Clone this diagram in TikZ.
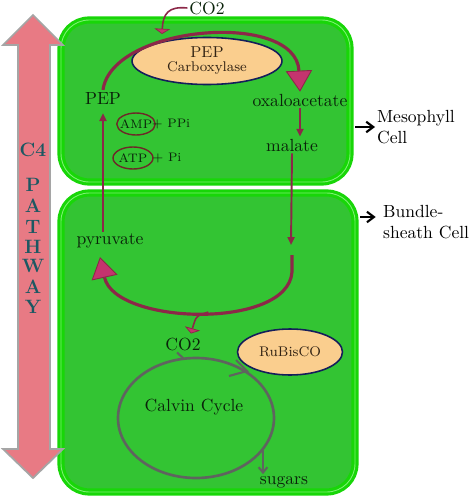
\documentclass[tikz,border=0pt]{standalone}
\usepackage{tikz}
\usetikzlibrary{arrows.meta,calc,positioning,shapes}

\definecolor{cellfill}{RGB}{51,196,51}
\definecolor{cellrim}{RGB}{24,214,8}
\definecolor{cellhl}{RGB}{125,240,115}
\definecolor{maroon}{RGB}{140,40,72}
\definecolor{tipfill}{RGB}{196,52,110}
\definecolor{enzfill}{RGB}{250,206,142}
\definecolor{enzline}{RGB}{20,30,90}
\definecolor{enztext}{RGB}{50,35,20}
\definecolor{cofline}{RGB}{110,40,40}
\definecolor{pathpink}{RGB}{232,122,132}
\definecolor{pathgray}{RGB}{165,165,165}
\definecolor{pathtext}{RGB}{28,88,98}
\definecolor{calvgray}{RGB}{95,100,95}
\definecolor{labeltext}{RGB}{10,35,10}

\begin{document}
\begin{tikzpicture}[x=0.02cm,y=-0.02cm,>=Stealth,
    cell/.style={draw=cellrim,fill=cellfill,line width=1.8pt,double=cellhl,
      double distance=0.5pt,rounded corners=16pt,inner sep=0pt},
    lbl/.style={text=labeltext,inner sep=1pt},
    side/.style={align=left,inner sep=1pt,anchor=west},
    enzyme/.style={ellipse,draw=enzline,fill=enzfill,line width=0.9pt,inner sep=0pt,
      text=enztext,align=center,font=\fontsize{8}{9}\selectfont},
    cofactor/.style={ellipse,draw=cofline,line width=0.8pt,inner sep=-1.5pt,
      minimum height=0.44cm,text=labeltext,font=\fontsize{7}{8}\selectfont},
    small/.style={text=labeltext,inner sep=0pt,font=\fontsize{7}{8}\selectfont},
    flow/.style={draw=maroon,line width=1.1pt,-{Triangle[length=4.5pt,width=4pt]}},
    bigflow/.style={draw=maroon,line width=1.8pt,
      -{Triangle[length=12pt,width=15pt,fill=tipfill,line width=0.5pt]}},
    co2flow/.style={draw=maroon,line width=0.9pt,
      -{Triangle[length=3pt,width=9pt,fill=tipfill,line width=0.4pt]}},
    calvline/.style={draw=calvgray,line width=1.5pt},
    pointer/.style={draw=black,line width=1.2pt,-{Straight Barb[length=4pt,width=6pt]}},
    pathletter/.style={text=pathtext,font=\fontsize{11}{12}\selectfont\bfseries,inner sep=0pt}]
  \fill[white] (0,0) rectangle (474,497);
  \useasboundingbox (0,0) rectangle (474,497);

  % the two cells
  \node[cell,minimum width=5.78cm,minimum height=3.24cm] (meso) at (205.5,101) {};
  \node[cell,minimum width=5.88cm,minimum height=5.98cm] (bs) at (208,342.5) {};

  % C4 pathway arrow
  \filldraw[fill=pathpink,draw=pathgray,line width=1pt]
    (33,15) -- (63,45) -- (50,45) -- (50,449) -- (63,449) -- (33,478)
    -- (3,449) -- (18,449) -- (18,45) -- (3,45) -- cycle;
  \node[pathletter] (c4) at (33,150) {C4};
  \foreach \ch/\y in {P/185,A/206,T/227,H/247,W/266,A/287,Y/307}
    {\node[pathletter] (letter\y) at (33,\y) {\ch};}

  % mesophyll cell
  \node[enzyme,minimum width=3cm,minimum height=0.94cm] (pepc) at (207,61)
    {\fontsize{9}{10}\selectfont PEP\\[-1pt]Carboxylase};
  \node[lbl] (co2top) at (207,8) {CO2};
  \node[lbl] (pep) at (103,98) {PEP};
  \node[lbl] (oxa) at (300,100) {oxaloacetate};
  \node[lbl] (malate) at (292,145) {malate};
  \node[cofactor,minimum width=0.68cm] (amp) at (136,124) {AMP};
  \node[small] (ppi) at (171,124) {+ PPi};
  \node[cofactor,minimum width=0.8cm] (atp) at (133,158) {ATP};
  \node[small] (pi) at (167,158) {+ Pi};
  \coordinate (co2in) at (162,34);

  \draw[bigflow] (pep.north) .. controls (112,25) and (296,10) .. (oxa.north);
  \draw[co2flow] (co2top.west) .. controls (168,6) and (163,14) .. (co2in);
  \draw[flow] (oxa.south) -- (oxa.south |- malate.north);

  % bundle-sheath cell
  \node[lbl] (pyr) at (110,241) {pyruvate};
  \node[lbl] (co2bot) at (183,344) {CO2};
  \node[enzyme,minimum width=2.1cm,minimum height=0.92cm] (rubisco) at (290,352) {RuBisCO};
  \node[lbl] (calvin) at (194,407) {Calvin Cycle};
  \node[lbl] (sugars) at (284,482) {sugars};
  \coordinate (bsin) at (291,245);
  \coordinate (bsarc) at (292,255);
  \coordinate (pyrin) at (100,257);
  \coordinate (sugout) at (263,450);

  \draw[flow] (malate.south) -- (bsin);
  \draw[flow] (pyr.north -| pep.south) -- ([yshift=-4pt]pep.south);
  \draw[bigflow] (bsarc) -- (292,272) .. controls (288,330) and (115,325) .. (pyrin)
    coordinate[pos=0.47] (branch);
  \draw[co2flow] (branch) .. controls (196,316) .. ($(co2bot.north)+(8,-2)$);

  \draw[calvline] ($(calvin.center)+(2,11)$) ellipse [x radius=78, y radius=60];
  \draw[calvline,line width=1.2pt] (236,360) -- (247,371) -- (229,376);
  \draw[calvline,line width=1.2pt] ($(co2bot.south)+(-6,0)$) -- (184,359);
  \draw[calvline,line width=1.2pt,-{Straight Barb[length=3pt,width=5pt]}]
    (sugout) -- (sugout |- sugars.north);

  % cell names
  \node[side] (mesolbl) at (375,127) {Mesophyll\\Cell};
  \node[side] (bslbl) at (381,222) {Bundle-\\sheath Cell};
  \draw[pointer,shorten <=2pt] (mesolbl.west -| meso.east) -- (mesolbl.west);
  \draw[pointer,shorten <=2pt,shorten >=3pt]
    ($(bslbl.west -| bs.east)+(0,-5)$) -- ($(bslbl.west)+(0,-5)$);
\end{tikzpicture}
\end{document}
